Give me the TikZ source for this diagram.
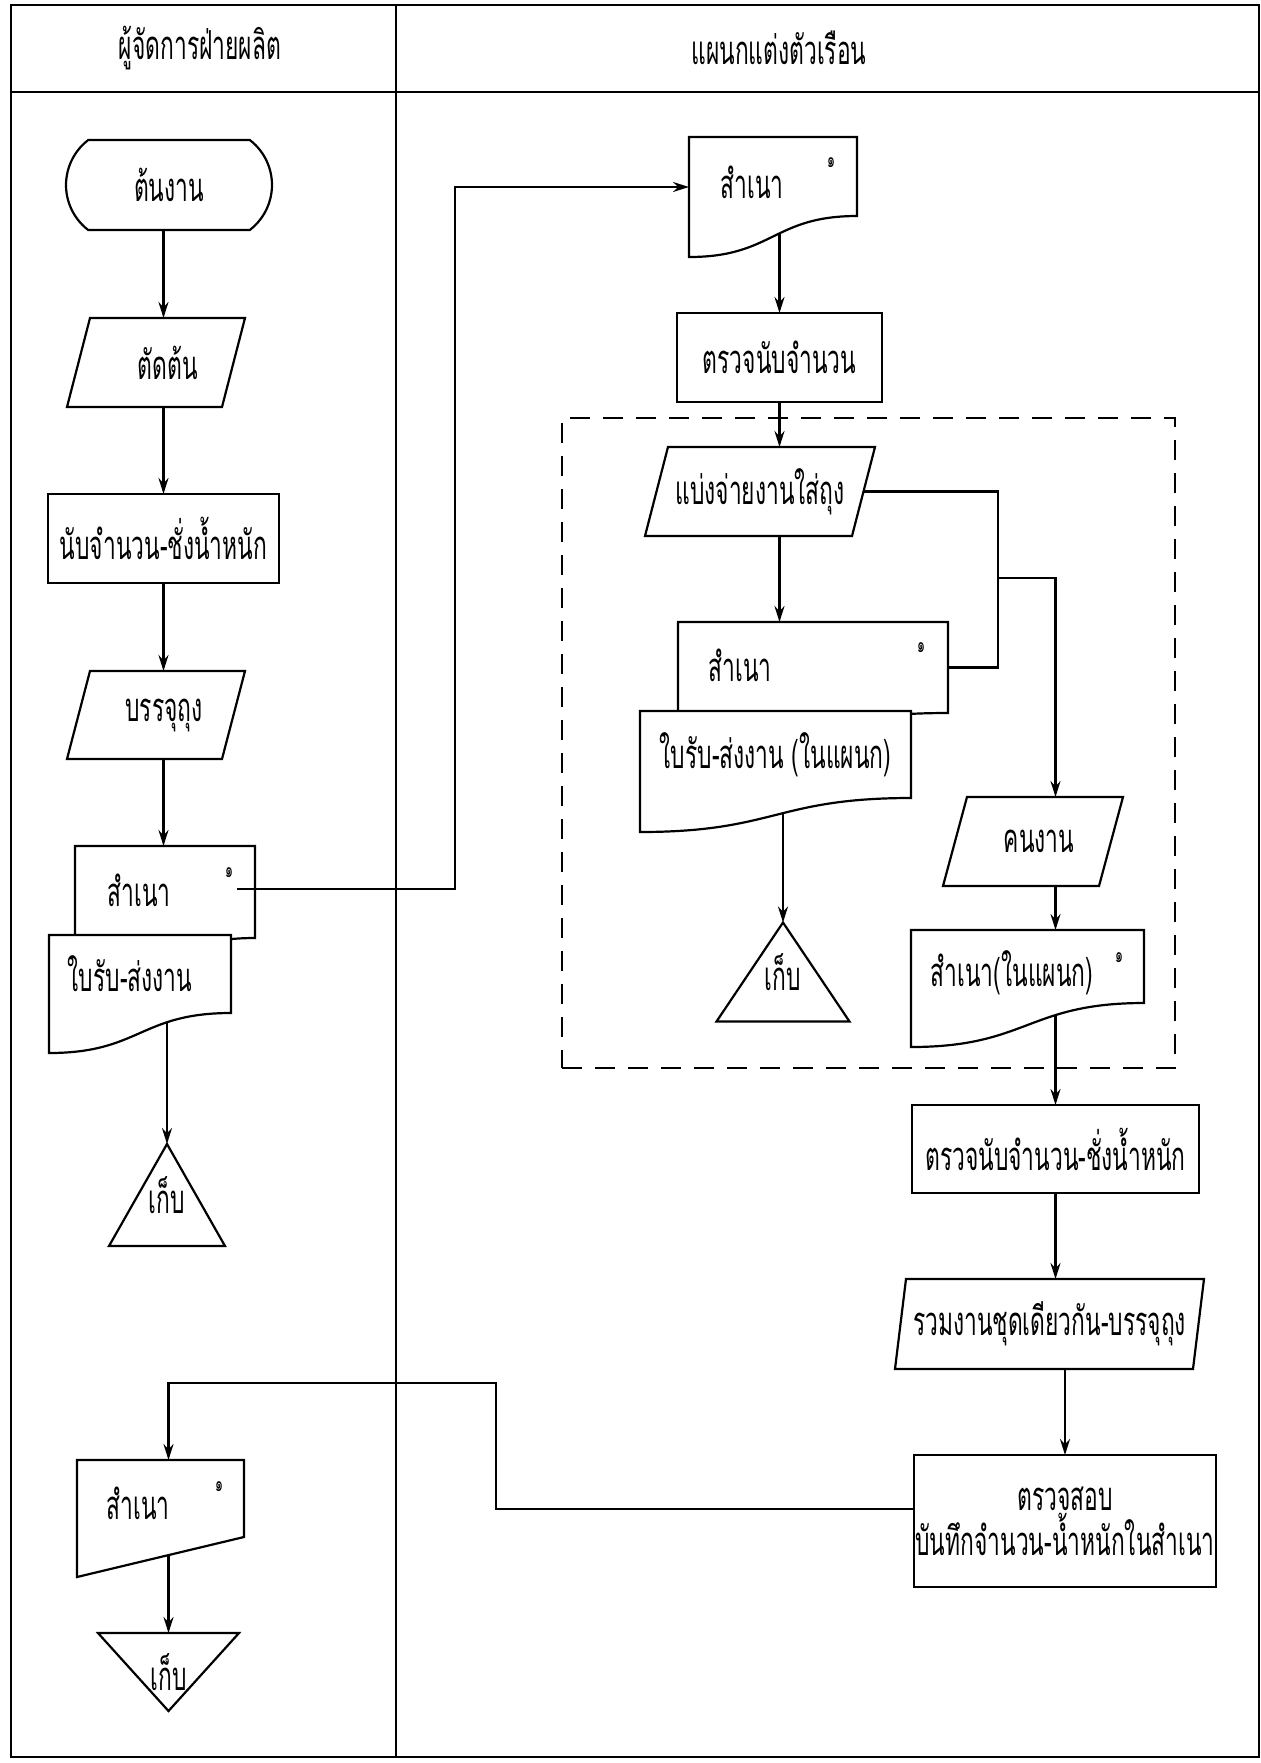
\documentclass[tikz,border=0pt]{standalone}
\usepackage{fontspec}
\newfontfamily\thaifont[Script=Thai,FakeStretch=0.57]{Loma}
\usetikzlibrary{arrows.meta,calc,shapes.misc}
\pgfdeclarelayer{conn}
\pgfdeclarelayer{body}
\pgfsetlayers{conn,body,main}

\tikzset{
  base/.style={font=\thaifont\fontsize{20}{23}\selectfont, inner sep=0pt, outer sep=0pt},
  box/.style 2 args={minimum width=#1*0.5pt, minimum height=#2*0.5pt},
  proc/.style={base, draw, fill=white, line width=1.1pt},
  shell/.style={base},
  term/.style={base, draw, fill=white, line width=1.1pt, rounded rectangle, rounded rectangle arc length=105},
  outline/.style={draw, fill=white, line width=1.1pt, line join=miter},
  link/.style={line width=1.1pt},
  arr/.style={link, -{Stealth[length=8pt,width=5pt]}},
  grpbox/.style={draw, dash pattern=on 10pt off 6.5pt, line width=0.9pt, inner sep=0pt},
  frame/.style={line width=1.2pt},
  lbl/.style={base},
  num/.style={font=\thaifont\fontsize{11}{11}\selectfont, inner sep=0pt},
}

% outline of a parallelogram around a body node (#2 = slant)
\newcommand\paraoutline[2]{%
  \begin{pgfonlayer}{body}
  \draw[outline] ($(#1.south west)+(-#2/2,0)$) -- ($(#1.north west)+(#2/2,0)$)
     -- ($(#1.north east)+(#2/2,0)$) -- ($(#1.south east)+(-#2/2,0)$) -- cycle;
  \end{pgfonlayer}}
% document with a wavy lower edge (#2 = extra drop on the left)
\newcommand\docoutline[2]{%
  \begin{pgfonlayer}{body}
  \draw[outline] (#1.north west) -- ($(#1.south west)+(0,#2)$)
     .. controls ($(#1.south)+(0,#2)$) and (#1.south) .. (#1.south east)
     -- (#1.north east) -- cycle;
  \end{pgfonlayer}}
% document with a straight slanted lower edge
\newcommand\docflatoutline[2]{%
  \begin{pgfonlayer}{body}
  \draw[outline] (#1.north west) -- ($(#1.south west)+(0,#2)$) -- (#1.south east)
     -- (#1.north east) -- cycle;
  \end{pgfonlayer}}
% storage triangles
\newcommand\trioutline[1]{%
  \begin{pgfonlayer}{body}
  \draw[outline] (#1.north) -- (#1.south east) -- (#1.south west) -- cycle;
  \end{pgfonlayer}}
\newcommand\trinvoutline[1]{%
  \begin{pgfonlayer}{body}
  \draw[outline] (#1.north west) -- (#1.north east) -- (#1.south) -- cycle;
  \end{pgfonlayer}}

\begin{document}
\begin{tikzpicture}[x=0.5pt,y=-0.5pt]
\useasboundingbox (0,0) rectangle (1261,1763);

% swimlane frame
\draw[frame] (11,5) rectangle (1259,1757);
\draw[frame] (11,92) -- (1259,92);
\draw[frame] (396,5) -- (396,1757);
\node[lbl] (h1) at (200,48) {ผู้จัดการฝ่ายผลิต};
\node[lbl] (h2) at (779,48) {แผนกแต่งตัวเรือน};

% ---------- production manager lane ----------
\node[term, box={206}{90}] (start) at (169,185) {ต้นงาน};

\node[shell, box={155}{89}] (cut) at (156,362.5) {\hspace*{12pt}ตัดต้น};
\paraoutline{cut}{23}

\node[proc, box={231}{89}] (count1) at (163.5,538.5) {นับจำนวน-ชั่งน้ำหนัก};

\node[shell, box={155}{88}] (pack) at (156,715) {\hspace*{8pt}บรรจุถุง};
\paraoutline{pack}{23}

\node[shell, box={180}{92}] (docAb) at (165,892) {};
\docoutline{docAb}{40}
\node[lbl] (docAb-t) at (139,890) {สำเนา};
\node[num] (docAb-n) at (229,873) {๑};

\node[shell, box={182}{78}] (docAf) at (140,974) {\hspace*{-10pt}ใบรับ-ส่งงาน};
\docoutline{docAf}{40}

\node[shell, box={116}{102}] (storeA) at (167,1195) {เก็บ};
\trioutline{storeA}

\node[shell, box={167}{77}] (docC) at (160.5,1498.5) {};
\docflatoutline{docC}{40}
\node[lbl] (docC-t) at (138,1503) {สำเนา};
\node[num] (docC-n) at (219,1487) {๑};

\node[shell, box={141}{78}] (storeB) at (168.5,1672) {เก็บ};
\trinvoutline{storeB}

% ---------- finishing department lane ----------
\node[shell, box={168}{79}] (docR1) at (773,176.5) {};
\docoutline{docR1}{41}
\node[lbl] (docR1-t) at (752,182) {สำเนา};
\node[num] (docR1-n) at (831,163) {๑};

\node[proc, box={205}{89}] (chk1) at (779.5,357.5) {ตรวจนับจำนวน};

\node[grpbox, box={613}{650}] (grp) at (868.5,743) {};

\node[shell, box={207}{89}] (split) at (760,491.5) {แบ่งจ่ายงานใส่ถุง};
\paraoutline{split}{23}

\node[shell, box={270}{91}] (docMb) at (813,667.5) {};
\docoutline{docMb}{30}
\node[lbl] (docMb-t) at (740,665) {สำเนา};
\node[num] (docMb-n) at (921,648) {๑};

\node[shell, box={271}{87}] (docMf) at (775.5,754.5) {ใบรับ-ส่งงาน (ในแผนก)};
\docoutline{docMf}{34}

\node[shell, box={133}{99}] (storeR) at (783,972) {เก็บ};
\trioutline{storeR}

\node[shell, box={156}{89}] (worker) at (1033,841.5) {\hspace*{6pt}คนงาน};
\paraoutline{worker}{24}

\node[shell, box={233}{73}] (docW) at (1027.5,966.5) {};
\docoutline{docW}{44}
\node[lbl] (docW-t) at (1012,973) {สำเนา(ในแผนก)};
\node[num] (docW-n) at (1119,958) {๑};

\node[proc, box={287}{88}] (chk2) at (1055.5,1149) {ตรวจนับจำนวน-ชั่งน้ำหนัก};

\node[shell, box={298}{90}] (merge) at (1049.5,1324) {รวมงานชุดเดียวกัน-บรรจุถุง};
\paraoutline{merge}{11}

\node[proc, box={302}{132}, align=center, font=\thaifont\fontsize{20}{19}\selectfont] (verify) at (1065,1521)
  {ตรวจสอบ\\บันทึกจำนวน-น้ำหนักในสำเนา};

% ---------- connectors ----------
\coordinate (dA-out) at ($(docAb.east)+(-18,-3)$);
\coordinate (r1-in) at ($(docR1.north west)+(0,50)$);
\coordinate (bend1) at ($(r1-in)+(-234,0)$);
\coordinate (jn) at (998,578);
\coordinate (v-out) at ($(verify.west)+(0,-12)$);
\coordinate (jret) at (496,1383);

\begin{pgfonlayer}{conn}
\draw[arr] (start.south -| count1.north) -- (cut.north -| count1.north);
\draw[arr] (cut.south -| count1.north) -- (count1.north);
\draw[arr] (count1.south) -- (pack.north -| count1.south);
\draw[arr] (pack.south -| count1.south) -- (docAb.north -| count1.south);
\draw[arr] (docAf.center -| storeA.north) -- (storeA.north);

\draw[arr] (docR1.center -| chk1.north) -- (chk1.north);
\draw[arr] (chk1.south) -- (split.north -| chk1.south);
\draw[arr] (split.south -| chk1.south) -- (docMb.north -| chk1.south);
\draw[arr] (docMf.center -| storeR.north) -- (storeR.north);
\draw[link] (split.east) -| (jn) |- (docMb.east);
\draw[arr] (jn) -| (worker.north -| chk2.north);
\draw[arr] (worker.south -| chk2.north) -- (docW.north -| chk2.north);
\draw[arr] (docW.center -| chk2.north) -- (chk2.north);
\draw[arr] (chk2.south) -- (merge.north -| chk2.south);
\draw[arr] (merge.south -| verify.north) -- (verify.north);
\draw[arr] (v-out) -| (jret) -| (docC.north -| storeB.north);
\draw[arr] (docC.center -| storeB.north) -- (storeB.north);
\end{pgfonlayer}

% copy sent across to the finishing department
\draw[arr] (dA-out) -| (bend1) -- (r1-in);
\end{tikzpicture}
\end{document}
